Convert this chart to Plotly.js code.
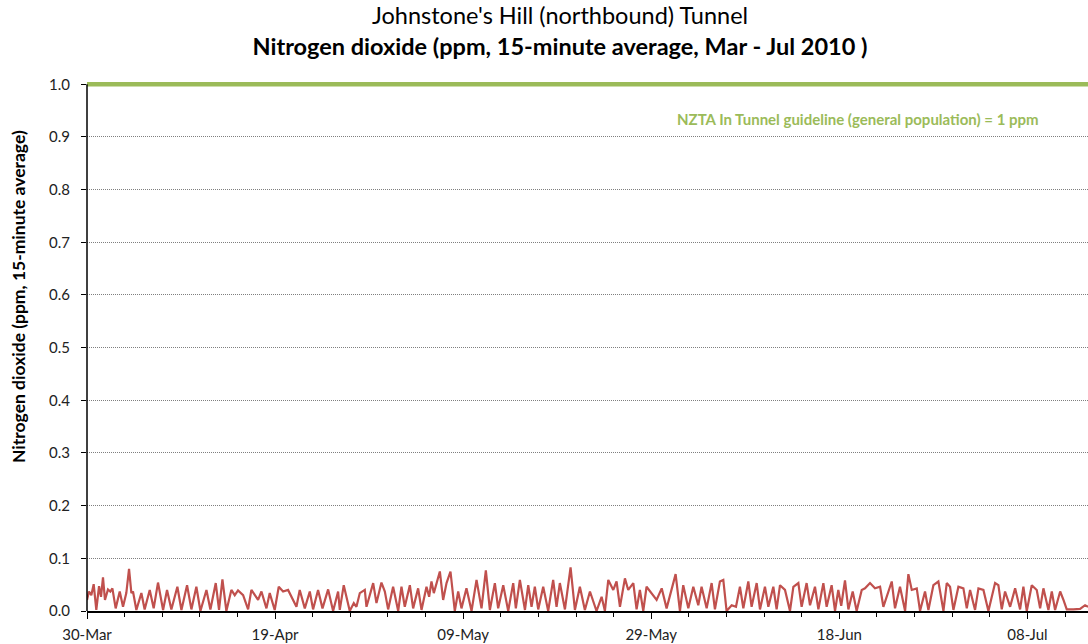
<!DOCTYPE html>
<html><head><meta charset="utf-8">
<script src="https://cdn.plot.ly/plotly-3.0.1.min.js"></script>
<style>html,body{margin:0;padding:0;background:#fff;overflow:hidden}</style>
</head><body><div id="chart" style="width:1088px;height:644px"></div>
<script>
// ---- data ----
const startDate = '2010-03-30';
const endDayOffset = 106.44;      // right edge of the time axis, days after start
const titleLine1 = "Johnstone's Hill (northbound) Tunnel";
const titleLine2 = "Nitrogen dioxide (ppm, 15-minute average, Mar - Jul 2010 )";
const yAxisTitle = "Nitrogen dioxide (ppm, 15-minute average)";
const guideline = 1.0;
const guidelineLabel = "NZTA In Tunnel guideline (general population) = 1 ppm";

// time of each reading, in days after 30-Mar-2010
const dayOffset = [
0.00,0.21,0.46,0.71,0.99,1.28,1.49,1.70,1.91,2.23,2.48,2.70,3.05,3.48,3.83,4.18,4.47,4.72,4.89,5.25,
5.78,6.13,6.67,7.09,7.55,8.09,8.51,8.97,9.61,10.04,10.64,11.10,11.63,12.06,12.70,13.12,13.69,14.04,14.40,14.82,
15.35,15.71,16.06,16.60,17.13,17.48,18.19,18.55,19.08,19.43,19.96,20.39,20.85,21.38,22.27,22.62,23.16,23.69,24.04,24.57,
25.04,25.64,26.17,26.70,26.88,27.30,27.94,28.37,28.65,29.01,29.54,29.72,30.43,30.78,31.31,31.67,32.02,32.55,33.09,33.44,
33.79,34.33,34.68,35.21,35.57,36.10,36.38,36.63,36.88,37.16,37.52,37.87,38.23,38.65,39.11,39.47,39.82,40.35,40.89,41.42,
41.95,42.41,42.84,43.37,43.72,44.26,44.79,45.32,45.60,46.03,46.57,46.92,47.27,47.62,47.98,48.51,49.04,49.57,49.93,50.28,
50.82,51.42,51.88,52.41,52.94,53.48,54.18,54.72,55.07,55.43,55.96,56.31,56.67,57.20,57.55,58.09,58.44,58.79,59.15,59.50,
60.04,60.57,61.11,61.63,62.59,63.05,63.40,63.94,64.47,65.00,65.35,65.89,66.42,66.77,67.30,67.66,68.01,68.55,69.01,69.43,
69.79,70.32,70.67,71.21,71.56,72.09,72.45,72.98,73.33,73.69,74.22,74.75,75.11,75.64,75.99,76.52,76.88,77.41,77.77,78.30,
78.65,79.18,79.54,79.89,80.20,80.60,80.96,81.42,81.84,82.38,82.73,83.26,83.79,84.33,84.68,85.57,85.92,86.45,86.99,87.34,
87.70,88.23,88.58,89.11,89.47,90.00,90.53,91.07,91.42,91.77,92.13,92.66,93.19,93.55,93.90,94.43,94.79,95.32,95.85,96.56,
96.91,97.27,97.62,98.16,98.69,99.22,99.57,99.93,100.46,100.99,101.35,101.70,102.23,102.59,102.94,103.48,103.83,104.18,104.89,105.60,
106.13,106.45
];
// NO2 concentration, ppm (15-minute average)
const no2 = [
0.021,0.037,0.030,0.051,0.002,0.047,0.027,0.064,0.021,0.041,0.037,0.043,0.005,0.037,0.008,0.034,0.080,0.034,0.037,0.002,
0.034,0.003,0.040,0.005,0.054,0.002,0.040,0.003,0.046,0.002,0.049,0.003,0.046,0.000,0.040,0.003,0.053,0.002,0.060,0.000,
0.040,0.030,0.039,0.030,0.003,0.040,0.021,0.037,0.005,0.034,0.002,0.046,0.037,0.040,0.008,0.040,0.005,0.037,0.003,0.040,
0.005,0.041,0.000,0.037,0.002,0.049,0.000,0.015,0.008,0.034,0.040,0.008,0.053,0.015,0.054,0.037,0.003,0.046,0.000,0.046,
0.008,0.049,0.005,0.043,0.002,0.046,0.027,0.056,0.034,0.053,0.075,0.021,0.053,0.075,0.000,0.037,0.005,0.043,0.000,0.059,
0.005,0.077,0.002,0.053,0.005,0.049,0.000,0.053,0.005,0.059,0.002,0.049,0.008,0.046,0.003,0.046,0.000,0.059,0.008,0.053,
0.003,0.083,0.002,0.046,0.002,0.037,0.000,0.027,0.000,0.059,0.040,0.056,0.008,0.062,0.040,0.053,0.003,0.040,0.000,0.046,
0.034,0.021,0.043,0.005,0.070,0.000,0.049,0.005,0.046,0.011,0.046,0.005,0.053,0.003,0.056,0.059,0.000,0.011,0.008,0.046,
0.005,0.056,0.008,0.053,0.003,0.046,0.008,0.046,0.003,0.049,0.040,0.000,0.046,0.053,0.008,0.053,0.011,0.046,0.003,0.053,
0.008,0.049,0.000,0.040,0.010,0.058,0.003,0.037,0.000,0.040,0.043,0.053,0.043,0.046,0.008,0.056,0.005,0.046,0.000,0.070,
0.040,0.043,0.000,0.037,0.002,0.049,0.056,0.000,0.053,0.046,0.002,0.046,0.043,0.005,0.040,0.002,0.043,0.040,0.000,0.053,
0.049,0.003,0.037,0.008,0.043,0.003,0.046,0.000,0.049,0.040,0.005,0.043,0.002,0.037,0.002,0.037,0.021,0.003,0.003,0.004,
0.011,0.008
];

// ---- build ----
const DAY = 86400000;
const t0 = Date.UTC(2010, 2, 30);
function pad(n){return (n<10?'0':'')+n;}
function toDateStr(ms){
  const d = new Date(ms);
  return d.getUTCFullYear()+'-'+pad(d.getUTCMonth()+1)+'-'+pad(d.getUTCDate())+' '+
         pad(d.getUTCHours())+':'+pad(d.getUTCMinutes())+':'+pad(d.getUTCSeconds());
}
const xDates = dayOffset.map(d => toDateStr(t0 + d*DAY));
const xEnd = toDateStr(t0 + endDayOffset*DAY);

const FONT = 'Lato, "Open Sans", sans-serif';
const GREEN = '#9BBB59';
const RED = '#C0504D';

const traces = [
  {x: [startDate, xEnd], y: [guideline, guideline], type: 'scatter', mode: 'lines',
   line: {color: GREEN, width: 4.5}, hoverinfo: 'skip', showlegend: false},
  {x: xDates, y: no2, type: 'scatter', mode: 'lines',
   line: {color: RED, width: 2.2}, showlegend: false, name: 'NO2'}
];

const W = 1088, H = 644, L = 87, T = 80, B = 33;
const plotW = W - L, plotH = H - T - B;
// pixel position -> paper fraction
const px = v => (v - L) / plotW;
const py = v => (H - B - v) / plotH;

const layout = {
  width: W, height: H,
  margin: {l: L, r: 0, t: T, b: B, pad: 0},
  paper_bgcolor: '#fff', plot_bgcolor: '#fff',
  font: {family: FONT, size: 15, color: '#222'},
  showlegend: false,
  title: {text: '<b>' + titleLine2 + '</b>', font: {family: FONT, size: 23.5, color: '#000'},
          xref: 'container', x: 560/W, xanchor: 'center',
          yref: 'container', y: 1 - 47/H, yanchor: 'middle'},
  xaxis: {
    type: 'date', range: [startDate, xEnd],
    tickformat: '%d-%b', tick0: startDate, dtick: 20*DAY,
    ticks: 'outside', ticklen: 6, tickwidth: 1, tickcolor: '#000',
    ticklabelstandoff: 3,
    minor: {tick0: startDate, dtick: 4*DAY, ticks: 'outside', ticklen: 4, tickwidth: 1, tickcolor: '#000', showgrid: false},
    showline: true, linecolor: '#000', linewidth: 1.5,
    showgrid: false, zeroline: false,
    tickfont: {family: FONT, size: 15, color: '#222'}
  },
  yaxis: {
    range: [0, plotH/526.7], tick0: 0, dtick: 0.1, tickformat: '.1f',
    ticks: 'outside', ticklen: 5, tickwidth: 1, tickcolor: '#000',
    ticklabelstandoff: 8,
    showline: false, zeroline: false,
    showgrid: true, gridcolor: '#7f7f7f', gridwidth: 1, griddash: '1px,1px',
    tickfont: {family: FONT, size: 15, color: '#222'}
  },
  shapes: [
    {type: 'line', xref: 'paper', x0: 0, x1: 0, yref: 'y', y0: 0, y1: guideline,
     line: {color: '#000', width: 1.5}, layer: 'above'}
  ],
  annotations: [
    {text: titleLine1, xref: 'paper', x: px(560), xanchor: 'center',
     yref: 'paper', y: py(15), yanchor: 'middle', showarrow: false,
     font: {family: FONT, size: 23.5, color: '#000'}},
    {text: '<b>' + yAxisTitle + '</b>', textangle: -90, xref: 'paper', x: px(18), xanchor: 'center',
     yref: 'paper', y: py(297), yanchor: 'middle', showarrow: false,
     font: {family: FONT, size: 17.5, color: '#000'}},
    {text: '<b>' + guidelineLabel + '</b>', xref: 'paper', x: px(858), xanchor: 'center',
     yref: 'paper', y: py(119), yanchor: 'middle', showarrow: false,
     font: {family: FONT, size: 15, color: GREEN}}
  ]
};

Plotly.newPlot('chart', traces, layout, {displayModeBar: false, staticPlot: true});
</script>
</body></html>
